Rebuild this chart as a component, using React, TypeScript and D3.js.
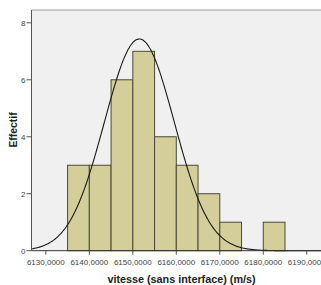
import React from 'react';
import * as d3 from 'd3';

// histogram bins (lower edge, width 5 m/s) and counts
const binStarts = [6135, 6140, 6145, 6150, 6155, 6160, 6165, 6170, 6175, 6180];
const binCounts = [3, 3, 6, 7, 4, 3, 2, 1, 0, 1];
const binWidth = 5;

const xTicks = [6130, 6140, 6150, 6160, 6170, 6180, 6190];
const yTicks = [0, 2, 4, 6, 8];

// fitted normal curve parameters
const curveMean = 6151.5;
const curveSd = 8.05;
const curveN = 30;

const W = 321;
const H = 285;

export default function App() {
  const x = d3.scaleLinear().domain([6126.7, 6195]).range([31.5, 328.5]);
  const y = d3.scaleLinear().domain([0, 8.45]).range([250.7, 10]);

  const bars = binStarts
    .map((s, i) => ({ s, c: binCounts[i] }))
    .filter(d => d.c > 0);

  const peak = (curveN * binWidth) / (curveSd * Math.sqrt(2 * Math.PI));
  const curvePts = d3.range(6126.7, 6195.01, 0.25).map(v => {
    const z = (v - curveMean) / curveSd;
    return [v, peak * Math.exp(-0.5 * z * z)] as [number, number];
  });
  const line = d3.line<[number, number]>()
    .x(d => x(d[0]))
    .y(d => y(d[1]))
    .curve(d3.curveBasis);

  const [x0, x1] = x.range();
  const [yb, yt] = y.range();

  return (
    <svg width={W} height={H} style={{ position: 'absolute', left: 0, top: 0, background: '#fff' }}
      fontFamily="'Liberation Sans', Arial, sans-serif">
      <rect x={x0} y={yt} width={x1 - x0} height={yb - yt} fill="#f0f0f0" />
      <line x1={x0} x2={x1} y1={yt} y2={yt} stroke="#9a9a9a" strokeWidth={1} />

      {bars.map(d => (
        <rect key={d.s}
          x={x(d.s)} y={y(d.c)}
          width={x(d.s + binWidth) - x(d.s)} height={y(0) - y(d.c)}
          fill="#d3ce9a" stroke="#4b4a38" strokeWidth={1} />
      ))}

      <path d={line(curvePts) || ''} fill="none" stroke="#1a1a1a" strokeWidth={1.1} />

      {/* axes */}
      <line x1={x0} x2={x0} y1={yt} y2={yb} stroke="#555" strokeWidth={1} />
      <line x1={x0} x2={x1} y1={yb} y2={yb} stroke="#333" strokeWidth={1} />

      {yTicks.map(t => (
        <g key={t}>
          <line x1={x0 - 5} x2={x0} y1={y(t)} y2={y(t)} stroke="#555" />
          <text x={x0 - 6} y={y(t)} dy="0.35em" textAnchor="end" fontSize={8} fill="#444">{t}</text>
        </g>
      ))}

      {xTicks.map(t => (
        <g key={t}>
          <line x1={x(t)} x2={x(t)} y1={yb} y2={yb + 4} stroke="#555" />
          <text x={x(t)} y={265} textAnchor="middle" fontSize={8} fill="#444">
            {d3.format('.4f')(t).replace('.', ',')}
          </text>
        </g>
      ))}

      <text x={181.5} y={282.5} textAnchor="middle" fontSize={10.8} fontWeight="bold" fill="#222">
        vitesse (sans interface) (m/s)
      </text>
      <text transform={`translate(17.3,130) rotate(-90)`} textAnchor="middle" fontSize={10.4}
        fontWeight="bold" fill="#222">Effectif</text>
    </svg>
  );
}
